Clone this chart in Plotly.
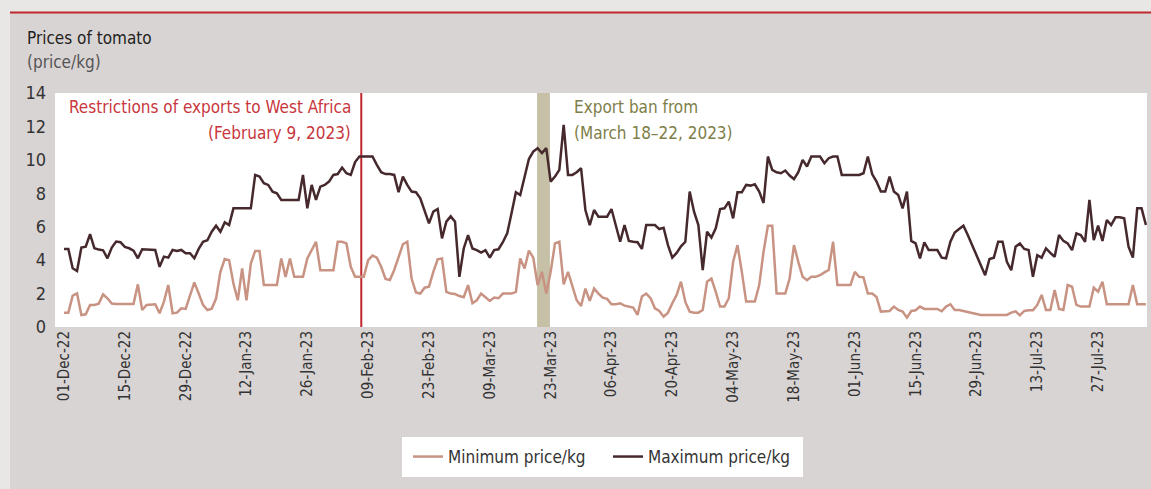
import pandas as pd
import plotly.graph_objects as go

start_date = "2022-12-01"

max_price = [
    4.67, 4.67, 3.51, 3.35, 4.75, 4.81, 5.55, 4.71, 4.63, 4.59,
    4.11, 4.75, 5.11, 5.07, 4.79, 4.71, 4.57, 4.11, 4.65, 4.63,
    4.61, 4.61, 3.60, 4.21, 4.15, 4.61, 4.55, 4.61, 4.41, 4.41,
    4.11, 4.67, 5.10, 5.19, 5.70, 6.06, 5.70, 6.26, 6.10, 7.10,
    7.10, 7.10, 7.10, 7.10, 9.10, 9.00, 8.60, 8.50, 8.10, 8.00,
    7.60, 7.60, 7.60, 7.60, 7.60, 9.10, 7.10, 8.50, 7.60, 8.40,
    8.50, 8.70, 9.10, 9.15, 9.54, 9.20, 9.10, 9.87, 10.2, 10.2,
    10.2, 10.2, 9.70, 9.26, 9.15, 9.15, 9.10, 8.06, 9.00, 8.50,
    8.10, 8.06, 7.70, 7.00, 6.20, 6.90, 7.06, 5.30, 6.30, 6.62,
    6.30, 3.00, 4.70, 5.50, 4.70, 4.60, 4.45, 4.60, 4.15, 4.60,
    4.65, 5.07, 5.60, 6.80, 8.06, 7.90, 9.06, 10.05, 10.5, 10.7,
    10.4, 10.7, 8.70, 9.00, 9.40, 12.1, 9.10, 9.10, 9.26, 9.50,
    7.00, 6.10, 7.00, 6.60, 6.60, 6.60, 7.06, 6.14, 5.10, 6.10,
    5.15, 5.10, 5.07, 4.67, 6.10, 6.10, 6.10, 5.86, 5.94, 4.90,
    4.15, 4.43, 4.83, 5.10, 8.10, 6.90, 6.10, 3.40, 5.70, 5.35,
    5.90, 7.06, 7.10, 7.50, 6.50, 8.06, 8.06, 8.50, 8.46, 8.54,
    8.10, 7.42, 10.2, 9.40, 9.26, 9.20, 9.36, 9.06, 8.85, 9.26,
    10.0, 9.60, 10.2, 10.2, 10.2, 9.80, 10.1, 10.2, 10.2, 9.10,
    9.10, 9.10, 9.10, 9.10, 9.20, 10.2, 9.15, 8.70, 8.10, 8.10,
    9.00, 8.10, 7.90, 7.10, 8.10, 5.15, 5.00, 4.10, 5.07, 4.60,
    4.60, 4.60, 4.15, 4.11, 5.10, 5.65, 5.86, 6.06, 5.50, 4.90,
    4.30, 3.70, 3.10, 4.07, 4.15, 5.10, 5.10, 3.90, 3.40, 4.80,
    5.00, 4.67, 4.60, 3.00, 4.30, 4.15, 4.70, 4.43, 4.20, 5.50,
    5.15, 5.00, 4.60, 5.60, 5.50, 5.10, 7.60, 5.20, 6.06, 5.15,
    6.40, 6.10, 6.56, 6.56, 6.50, 4.80, 4.15, 7.10, 7.10, 6.10,
]

min_price = [
    0.86, 0.86, 1.88, 2.01, 0.72, 0.76, 1.32, 1.32, 1.40, 1.95,
    1.72, 1.40, 1.38, 1.38, 1.38, 1.38, 1.38, 2.55, 1.02, 1.32,
    1.36, 1.36, 0.82, 1.52, 2.51, 0.82, 0.86, 1.12, 1.08, 1.82,
    2.67, 2.00, 1.32, 1.02, 1.10, 1.70, 3.30, 4.07, 4.00, 2.60,
    1.60, 3.50, 1.60, 3.80, 4.55, 4.55, 2.51, 2.51, 2.51, 2.51,
    4.10, 3.00, 4.10, 3.00, 3.00, 3.00, 4.10, 4.60, 5.10, 3.40,
    3.40, 3.40, 3.40, 5.10, 5.10, 5.00, 3.60, 3.00, 3.00, 3.00,
    4.00, 4.27, 4.15, 3.60, 2.87, 2.81, 3.41, 4.20, 4.95, 5.10,
    2.90, 2.07, 2.00, 2.35, 2.41, 3.30, 4.05, 4.10, 2.10, 2.00,
    1.97, 1.85, 1.78, 2.51, 1.42, 1.60, 2.00, 1.78, 1.56, 1.76,
    1.72, 2.00, 2.00, 2.00, 2.10, 4.10, 3.50, 4.57, 4.15, 2.51,
    3.30, 2.00, 3.30, 5.00, 5.10, 2.55, 3.30, 2.50, 1.60, 1.26,
    2.30, 1.56, 2.30, 2.00, 1.76, 1.68, 1.36, 1.36, 1.42, 1.28,
    1.24, 1.16, 0.72, 1.82, 2.00, 1.72, 1.12, 0.96, 0.62, 0.86,
    1.42, 1.92, 2.71, 1.50, 0.92, 0.86, 0.86, 1.02, 2.71, 2.90,
    2.10, 1.22, 1.22, 1.72, 3.90, 4.90, 3.30, 1.52, 1.52, 1.52,
    2.51, 4.50, 6.06, 6.06, 2.00, 2.00, 2.00, 2.90, 4.90, 3.90,
    3.00, 2.80, 3.00, 3.00, 3.10, 3.27, 3.41, 5.10, 2.51, 2.51,
    2.51, 2.51, 3.30, 3.00, 2.97, 2.00, 2.00, 1.80, 0.92, 0.92,
    0.96, 1.22, 1.02, 0.92, 0.56, 0.96, 1.00, 1.22, 1.08, 1.08,
    1.08, 1.08, 0.94, 1.22, 1.36, 1.02, 1.02, 0.98, 0.90, 0.84,
    0.76, 0.72, 0.72, 0.72, 0.72, 0.72, 0.72, 0.72, 0.86, 0.94,
    0.70, 0.96, 1.00, 1.00, 1.32, 1.92, 1.02, 1.02, 2.21, 1.08,
    1.02, 2.51, 2.41, 1.32, 1.22, 1.22, 1.22, 2.35, 2.11, 2.71,
    1.36, 1.36, 1.36, 1.36, 1.36, 1.36, 2.51, 1.36, 1.36, 1.36,
]

dates = pd.date_range(start_date, periods=len(max_price), freq="D")

x_range = ["2022-11-28 22:20", "2023-08-07 06:00"]
restriction_date = "2023-02-07 10:00"
ban_start, ban_end = "2023-03-19 21:00", "2023-03-22 20:00"

FONT = "Liberation Sans Narrow, DejaVu Sans Condensed, Arial Narrow, sans-serif"
DARK = "#46292d"
LIGHT = "#c89383"
RED = "#c0272d"

fig = go.Figure()
fig.add_trace(go.Scatter(x=dates, y=min_price, mode="lines", name="Minimum price/kg",
                         line=dict(color=LIGHT, width=2.5)))
fig.add_trace(go.Scatter(x=dates, y=max_price, mode="lines", name="Maximum price/kg",
                         line=dict(color=DARK, width=2.5)))

W, H = 1151, 489
L, R, T, B = 55, 4, 93, 162
pw, ph = W - L - R, H - T - B


def px_x(p):
    return (p - L) / pw


def px_y(p):
    return (H - B - p) / ph


shapes = [
    dict(type="rect", xref="paper", yref="paper", x0=px_x(10), x1=px_x(W + 5),
         y0=px_y(H + 5), y1=px_y(12), fillcolor="#d9d4d4", line=dict(width=0), layer="below"),
    dict(type="line", xref="paper", yref="paper", x0=px_x(10), x1=px_x(W + 5),
         y0=px_y(12.5), y1=px_y(12.5), line=dict(color=RED, width=2), layer="below"),
    dict(type="rect", xref="paper", yref="paper", x0=0, x1=1, y0=0, y1=1,
         fillcolor="white", line=dict(width=0), layer="below"),
    dict(type="rect", xref="paper", yref="paper", x0=px_x(402), x1=px_x(803),
         y0=px_y(477), y1=px_y(437), fillcolor="white", line=dict(width=0), layer="below"),
    dict(type="rect", xref="x", yref="paper", x0=ban_start, x1=ban_end, y0=0, y1=1,
         fillcolor="#c5c0a6", line=dict(width=0), layer="below"),
    dict(type="line", xref="x", yref="paper", x0=restriction_date, x1=restriction_date,
         y0=0, y1=1, line=dict(color=RED, width=2), layer="below"),
]

annotations = [
    dict(text="Prices of tomato", xref="paper", yref="paper", x=px_x(25), y=px_y(38),
         xanchor="left", yanchor="middle", showarrow=False,
         font=dict(family=FONT, size=17, color="#231f20")),
    dict(text="(price/kg)", xref="paper", yref="paper", x=px_x(25), y=px_y(62),
         xanchor="left", yanchor="middle", showarrow=False,
         font=dict(family=FONT, size=17, color="#555555")),
    dict(text="Restrictions of exports to West Africa", xref="paper", yref="paper",
         x=px_x(353), y=px_y(107), xanchor="right", yanchor="middle", showarrow=False,
         font=dict(family=FONT, size=17, color="#c8373d")),
    dict(text="(February 9, 2023)", xref="paper", yref="paper",
         x=px_x(353), y=px_y(133), xanchor="right", yanchor="middle", showarrow=False,
         font=dict(family=FONT, size=17, color="#c8373d")),
    dict(text="Export ban from", xref="paper", yref="paper",
         x=px_x(572), y=px_y(107), xanchor="left", yanchor="middle", showarrow=False,
         font=dict(family=FONT, size=17, color="#7e7e48")),
    dict(text="(March 18\u201322, 2023)", xref="paper", yref="paper",
         x=px_x(572), y=px_y(133), xanchor="left", yanchor="middle", showarrow=False,
         font=dict(family=FONT, size=17, color="#7e7e48")),
]

fig.update_layout(
    width=W, height=H,
    margin=dict(l=L, r=R, t=T, b=B, pad=0),
    paper_bgcolor="#e9e6e6",
    plot_bgcolor="rgba(0,0,0,0)",
    font=dict(family=FONT, color="#333333"),
    shapes=shapes,
    annotations=annotations,
    showlegend=True,
    legend=dict(orientation="h", x=px_x(608), xanchor="center", y=px_y(457),
                yanchor="middle", bgcolor="rgba(0,0,0,0)",
                font=dict(family=FONT, size=17, color="#333333"),
                itemwidth=30, entrywidth=155),
    xaxis=dict(type="date", range=x_range, tick0=start_date, dtick=14 * 86400000,
               tickformat="%d-%b-%y", tickangle=-90, showgrid=False, zeroline=False,
               showline=False, ticks="", tickfont=dict(family=FONT, size=15, color="#333333")),
    yaxis=dict(range=[0, 14], dtick=2, showgrid=False, zeroline=False, showline=False,
               ticks="", ticklabelstandoff=8,
               tickfont=dict(family=FONT, size=18, color="#333333")),
)

fig.write_html("out.html", config={"displayModeBar": False},
               post_script="document.body.style.margin='0px';")
